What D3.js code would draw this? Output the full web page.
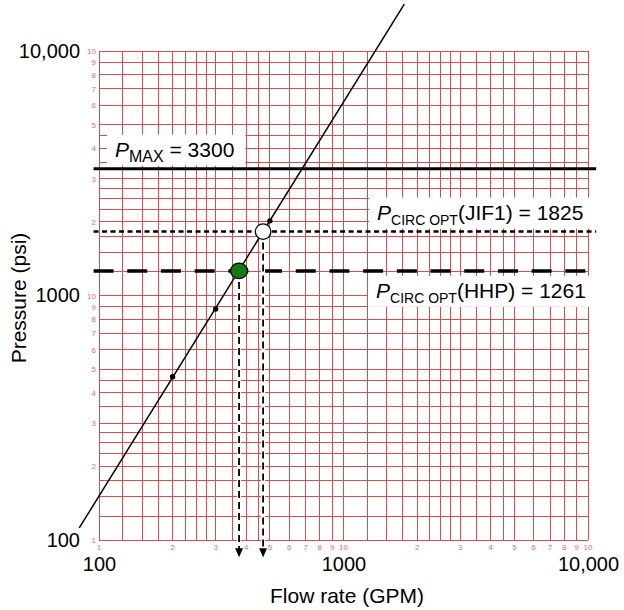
<!DOCTYPE html>
<html>
<head>
<meta charset="utf-8">
<script src="https://cdn.jsdelivr.net/npm/d3@7"></script>
<style>
  body { margin: 0; background: #fff; }
  svg { font-family: 'Liberation Sans', Arial, sans-serif; }
</style>
</head>
<body>
<svg id="chart" width="624" height="610"></svg>
<script>
// log-log paper: a line at each step inside every decade
const decades = [100, 1000]
const gridSteps = [1, 1.25, 1.5, 1.75, 2, 2.25, 2.5, 2.75, 3, 3.5, 4, 4.5, 5, 6, 7, 8, 9]
const paperLabels = [1, 2, 3, 4, 5, 6, 7, 8, 9, 10]
const axisTicks = [100, 1000, 10000]
const axisTickText = ['100', '1000', '10,000']

// pump curve (GPM, psi)
const pumpLine = [[83, 112], [1773, 15560]]
const pumpPoints = [[200, 465], [300, 880], [500, 2020]]

// pressure limits
const pMax = 3300
const pJif1 = 1825
const pHhp = 1261
const qHhp = 374
const qJif1 = 469
const refLineFlow = [95, 10800]
const arrowEndPressure = 85

const svg = d3.select('#chart')

const x = d3.scaleLog().domain([100, 10000]).range([99, 588])
const y = d3.scaleLog().domain([100, 10000]).range([540, 51])

const gridValues = []
decades.forEach(function (d) {
  gridSteps.forEach(function (s) { gridValues.push(d * s) })
})
gridValues.push(10000)

// grid
const grid = svg.append('g').attr('class', 'grid')
  .attr('stroke', '#de4b4b').attr('stroke-width', 1)
  .attr('shape-rendering', 'crispEdges')
grid.selectAll('.vline')
  .data(gridValues)
  .enter().append('line')
    .attr('x1', function (d) { return x(d) })
    .attr('x2', function (d) { return x(d) })
    .attr('y1', y(100))
    .attr('y2', y(10000))
grid.selectAll('.hline')
  .data(gridValues)
  .enter().append('line')
    .attr('y1', function (d) { return y(d) })
    .attr('y2', function (d) { return y(d) })
    .attr('x1', x(100))
    .attr('x2', x(10000))

// small paper numbers
const paperTicks = []
decades.forEach(function (d, i) {
  paperLabels.forEach(function (m) {
    if (i > 0 && m === 1) return
    paperTicks.push({ v: d * m, t: m })
  })
})
const paper = svg.append('g').attr('fill', '#e27070').attr('font-size', '8px')
paper.selectAll('.px')
  .data(paperTicks)
  .enter().append('text')
    .attr('x', function (d) { return x(d.v) })
    .attr('y', y(100) + 10)
    .attr('text-anchor', 'middle')
    .text(function (d) { return d.t })
paper.selectAll('.py')
  .data(paperTicks)
  .enter().append('text')
    .attr('x', x(100) - 3)
    .attr('y', function (d) { return y(d.v) + 3 })
    .attr('text-anchor', 'end')
    .text(function (d) { return d.t })

// main axes (labels only)
const xAxis = svg.append('g')
  .attr('transform', 'translate(0,' + y(100) + ')')
  .call(d3.axisBottom(x).tickValues(axisTicks)
    .tickFormat(function (d, i) { return axisTickText[i] })
    .tickSize(0).tickPadding(17))
const yAxis = svg.append('g')
  .attr('transform', 'translate(' + x(100) + ',0)')
  .call(d3.axisLeft(y).tickValues(axisTicks)
    .tickFormat(function (d, i) { return axisTickText[i] })
    .tickSize(0).tickPadding(19))
;[xAxis, yAxis].forEach(function (a) {
  a.select('.domain').remove()
  a.selectAll('text')
    .attr('font-size', '20px')
    .attr('font-family', "'Liberation Sans', Arial, sans-serif")
    .attr('fill', '#000')
})

svg.append('text')
  .attr('x', 347)
  .attr('y', 603)
  .attr('text-anchor', 'middle')
  .attr('font-size', '21px')
  .text('Flow rate (GPM)')
svg.append('text')
  .attr('transform', 'translate(26,298) rotate(-90)')
  .attr('text-anchor', 'middle')
  .attr('font-size', '21px')
  .text('Pressure (psi)')

// label boxes
function refLabel (xPos, baseY, sub, subSize, rest) {
  const g = svg.append('g')
  const rect = g.append('rect').attr('fill', '#fff')
  const t = g.append('text')
    .attr('x', xPos)
    .attr('y', baseY)
    .attr('font-size', '21px')
  t.append('tspan').attr('font-style', 'italic').text('P')
  t.append('tspan').attr('font-size', subSize).attr('dy', 5).text(sub)
  t.append('tspan').attr('dy', -5).text(rest)
  const b = t.node().getBBox()
  rect.attr('x', b.x - 8).attr('y', b.y - 3)
    .attr('width', b.width + 19).attr('height', b.height + 4)
}
refLabel(115, y(pMax) - 12, 'MAX', '16px', ' = 3300')
refLabel(377, y(pJif1) - 12, 'CIRC OPT', '14px', '(JIF1) = 1825')
refLabel(376, y(pHhp) + 27, 'CIRC OPT', '14px', '(HHP) = 1261')

// pressure lines
const refLines = [
  { p: pMax, w: 3, dash: null },
  { p: pJif1, w: 2.5, dash: '5,3.5' },
  { p: pHhp, w: 3.5, dash: '20,13.7' },
]
svg.selectAll('.ref')
  .data(refLines)
  .enter().append('line')
    .attr('x1', x(refLineFlow[0]))
    .attr('x2', function (d) { return x(refLineFlow[1]) })
    .attr('y1', function (d) { return y(d.p) })
    .attr('y2', function (d) { return y(d.p) })
    .attr('stroke', '#000')
    .attr('stroke-width', function (d) { return d.w })
    .attr('stroke-dasharray', function (d) { return d.dash })

// pump line
const line = d3.line()
  .x(function (d) { return x(d[0]) })
  .y(function (d) { return y(d[1]) })
svg.append('path')
  .attr('d', line(pumpLine))
  .attr('fill', 'none')
  .attr('stroke', '#000')
  .attr('stroke-width', 1.5)

// drop lines with arrows
const drops = [[qHhp, pHhp], [qJif1, pJif1]]
drops.forEach(function (d) {
  const xx = x(d[0])
  const yEnd = y(arrowEndPressure)
  svg.append('line')
    .attr('x1', xx).attr('x2', xx)
    .attr('y1', y(d[1])).attr('y2', yEnd - 8)
    .attr('stroke', '#fff').attr('stroke-width', 4)
  svg.append('line')
    .attr('x1', xx).attr('x2', xx)
    .attr('y1', y(d[1])).attr('y2', yEnd - 8)
    .attr('stroke', '#000').attr('stroke-width', 1.8)
    .attr('stroke-dasharray', '7,4')
  svg.append('path')
    .attr('d', 'M' + (xx - 4) + ',' + (yEnd - 9) + 'L' + (xx + 4) + ',' + (yEnd - 9) + 'L' + xx + ',' + yEnd + 'Z')
    .attr('fill', '#000')
})

svg.selectAll('.dot')
  .data(pumpPoints)
  .enter().append('circle')
    .attr('cx', function (d) { return x(d[0]) })
    .attr('cy', function (d) { return y(d[1]) })
    .attr('r', 2.7)
    .attr('fill', '#000')

svg.append('circle')
  .attr('cx', x(qJif1)).attr('cy', y(pJif1)).attr('r', 7.8)
  .attr('fill', '#fff').attr('stroke', '#000').attr('stroke-width', 1.3)
svg.append('ellipse')
  .attr('cx', x(qHhp)).attr('cy', y(pHhp)).attr('rx', 8.5).attr('ry', 7.8)
  .attr('fill', '#117a11').attr('stroke', '#000').attr('stroke-width', 1.3)
</script>
</body>
</html>
